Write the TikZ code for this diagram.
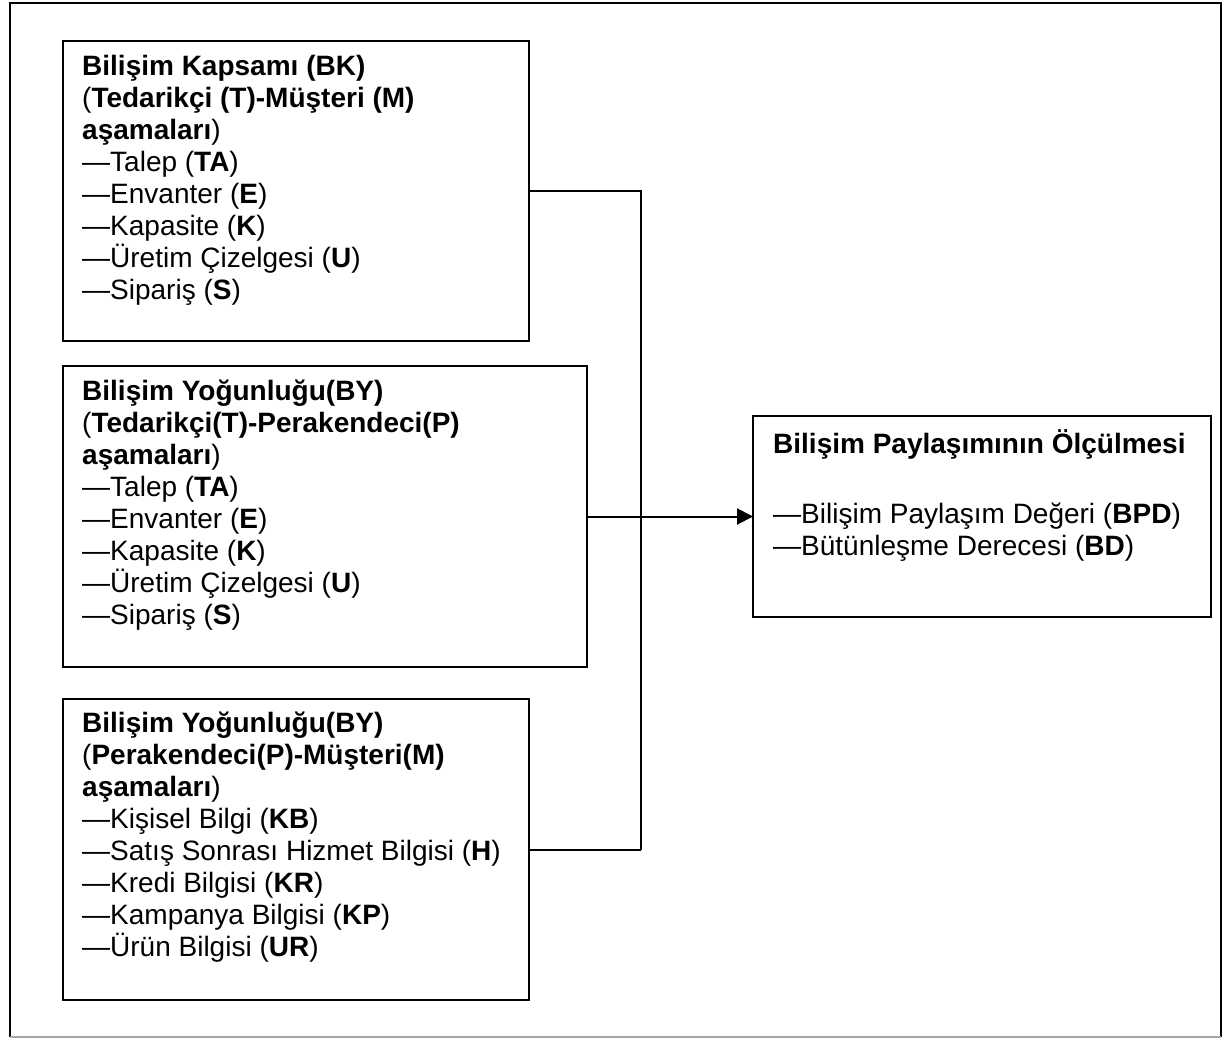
\documentclass[tikz,border=0pt]{standalone}
\usepackage{fontspec}
\setmainfont{Liberation Sans}
\usetikzlibrary{arrows.meta}
\tikzset{
  box/.style={draw, line width=2pt, rectangle, inner sep=0pt, outer sep=0pt, anchor=north west},
  boxtext/.style={anchor=north west, inner sep=0pt, align=left,
    font=\fontsize{28}{32}\selectfont},
  conn/.style={draw, line width=1.3pt},
  frame/.style={draw, line width=1.3pt}
}
\newcommand{\fl}{\rule{0pt}{22pt}}
\begin{document}
\begin{tikzpicture}[x=1pt,y=-1pt]
\useasboundingbox (0,0) rectangle (1230,1039);
% outer frame
\draw[frame] (10,1037) -- (10,3) -- (1221,3) -- (1221,1037);
\draw[frame, black!35] (10,1037) -- (1221,1037);
% boxes
\node[box, minimum width=466pt, minimum height=300pt] (b1) at (63,41) {};
\node[box, minimum width=524pt, minimum height=301pt] (b2) at (63,366) {};
\node[box, minimum width=466pt, minimum height=301pt] (b3) at (63,699) {};
\node[box, minimum width=458pt, minimum height=201pt] (b4) at (753,416) {};
% texts
\node[boxtext] (t1) at ([xshift=19pt,yshift=-12pt]b1.north west) {\fl\textbf{Bilişim Kapsamı (BK)}\\
(\textbf{Tedarikçi (T)-Müşteri (M)}\\
\textbf{aşamaları})\\
—Talep (\textbf{TA})\\
—Envanter (\textbf{E})\\
—Kapasite (\textbf{K})\\
—Üretim Çizelgesi (\textbf{U})\\
—Sipariş (\textbf{S})};
\node[boxtext] (t2) at ([xshift=19pt,yshift=-12pt]b2.north west) {\fl\textbf{Bilişim Yoğunluğu(BY)}\\
(\textbf{Tedarikçi(T)-Perakendeci(P)}\\
\textbf{aşamaları})\\
—Talep (\textbf{TA})\\
—Envanter (\textbf{E})\\
—Kapasite (\textbf{K})\\
—Üretim Çizelgesi (\textbf{U})\\
—Sipariş (\textbf{S})};
\node[boxtext] (t3) at ([xshift=19pt,yshift=-11pt]b3.north west) {\fl\textbf{Bilişim Yoğunluğu(BY)}\\
(\textbf{Perakendeci(P)-Müşteri(M)}\\
\textbf{aşamaları})\\
—Kişisel Bilgi (\textbf{KB})\\
—Satış Sonrası Hizmet Bilgisi (\textbf{H})\\
—Kredi Bilgisi (\textbf{KR})\\
—Kampanya Bilgisi (\textbf{KP})\\
—Ürün Bilgisi (\textbf{UR})};
\node[boxtext] (t4) at ([xshift=20pt,yshift=-13pt]b4.north west) {\fl\textbf{Bilişim Paylaşımının Ölçülmesi}\\[38pt]
—Bilişim Paylaşım Değeri (\textbf{BPD})\\
—Bütünleşme Derecesi (\textbf{BD})};
% connectors
\coordinate (j1) at (641,191);
\coordinate (j3) at (641,850);
\draw[conn] (b1.east |- j1) -- (j1) -- (j3);
\draw[conn] (b3.east |- j3) -- (j3);
\draw[conn, line width=2pt, -{Triangle[length=16pt,width=16pt]}] (b2.east) -- (b4.west |- b2.east);
\end{tikzpicture}
\end{document}
